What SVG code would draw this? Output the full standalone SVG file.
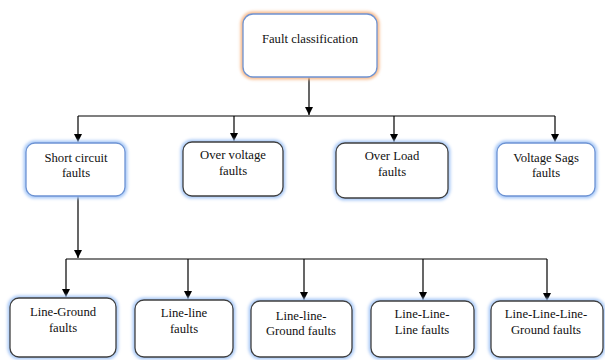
<svg xmlns="http://www.w3.org/2000/svg" width="605" height="360" viewBox="0 0 605 360">
  <style>
    .box { fill: #ffffff; stroke-width: 1.3; }
    .blue { stroke: #6d93d3; }
    .dark { stroke: #3f3f3f; }
    .halo { fill: none; stroke-width: 5; }
    .halo-b { stroke: #a9c9f7; }
    .halo-o { stroke: #f7b98a; }
    .lbl { font-size: 12.7px; fill: #111111; text-anchor: middle; }
    .wire { fill: none; stroke: #000000; stroke-width: 1.2; }
  </style>
  <defs>
    <filter id="soft" x="-20%" y="-30%" width="140%" height="160%">
      <feGaussianBlur stdDeviation="1.4"/>
    </filter>
    <marker id="arr" viewBox="0 0 10 10" refX="10" refY="5" markerWidth="8" markerHeight="8" markerUnits="userSpaceOnUse" orient="auto">
      <path d="M0,0 L10,5 L0,10 Z" fill="#000000"/>
    </marker>
  </defs>
  <rect width="605" height="360" fill="#ffffff"/>

  <g id="connectors">
    <path class="wire" d="M309,77 V115" marker-end="url(#arr)"/>
    <path class="wire" d="M78,116 H555"/>
    <path class="wire" d="M78,116 V142" marker-end="url(#arr)"/>
    <path class="wire" d="M234,116 V141" marker-end="url(#arr)"/>
    <path class="wire" d="M394,116 V142" marker-end="url(#arr)"/>
    <path class="wire" d="M555,116 V142" marker-end="url(#arr)"/>
    <path class="wire" d="M78,196 V258" marker-end="url(#arr)"/>
    <path class="wire" d="M66,259 H547"/>
    <path class="wire" d="M66,259 V297" marker-end="url(#arr)"/>
    <path class="wire" d="M188,259 V299" marker-end="url(#arr)"/>
    <path class="wire" d="M304,259 V300" marker-end="url(#arr)"/>
    <path class="wire" d="M423,259 V300" marker-end="url(#arr)"/>
    <path class="wire" d="M547,259 V301" marker-end="url(#arr)"/>
  </g>

  <g font-family="'Liberation Serif', 'DejaVu Serif', serif">
  <g id="fault-classification">
    <rect class="halo halo-o" x="243" y="14" width="134" height="63" rx="10" filter="url(#soft)"/>
    <rect class="box blue" x="243" y="14" width="134" height="63" rx="10"/>
    <text class="lbl" x="310" y="43">Fault classification</text>
  </g>

  <g id="short-circuit">
    <rect class="halo halo-b" x="26" y="143" width="99" height="53" rx="9" filter="url(#soft)"/>
    <rect class="box blue" x="26" y="143" width="99" height="53" rx="9"/>
    <text class="lbl" x="76" y="162">Short circuit</text>
    <text class="lbl" x="76" y="177">faults</text>
  </g>

  <g id="over-voltage">
    <rect class="halo halo-b" x="183" y="142" width="100" height="54" rx="9" filter="url(#soft)"/>
    <rect class="box dark" x="183" y="142" width="100" height="54" rx="9"/>
    <text class="lbl" x="233" y="159">Over voltage</text>
    <text class="lbl" x="233" y="175">faults</text>
  </g>

  <g id="over-load">
    <rect class="halo halo-b" x="336" y="143" width="112" height="55" rx="9" filter="url(#soft)"/>
    <rect class="box dark" x="336" y="143" width="112" height="55" rx="9"/>
    <text class="lbl" x="392" y="160">Over Load</text>
    <text class="lbl" x="392" y="176">faults</text>
  </g>

  <g id="voltage-sags">
    <rect class="halo halo-b" x="497" y="143" width="98" height="53" rx="9" filter="url(#soft)"/>
    <rect class="box blue" x="497" y="143" width="98" height="53" rx="9"/>
    <text class="lbl" x="546" y="162">Voltage Sags</text>
    <text class="lbl" x="546" y="177">faults</text>
  </g>

  <g id="line-ground">
    <rect class="halo halo-b" x="10" y="298" width="106" height="59" rx="9" filter="url(#soft)"/>
    <rect class="box dark" x="10" y="298" width="106" height="59" rx="9"/>
    <text class="lbl" x="63" y="316">Line-Ground</text>
    <text class="lbl" x="63" y="332">faults</text>
  </g>

  <g id="line-line">
    <rect class="halo halo-b" x="135" y="300" width="98" height="57" rx="9" filter="url(#soft)"/>
    <rect class="box dark" x="135" y="300" width="98" height="57" rx="9"/>
    <text class="lbl" x="184" y="317">Line-line</text>
    <text class="lbl" x="184" y="333">faults</text>
  </g>

  <g id="line-line-ground">
    <rect class="halo halo-b" x="251" y="301" width="101" height="56" rx="9" filter="url(#soft)"/>
    <rect class="box dark" x="251" y="301" width="101" height="56" rx="9"/>
    <text class="lbl" x="301" y="320">Line-line-</text>
    <text class="lbl" x="301" y="335">Ground faults</text>
  </g>

  <g id="line-line-line">
    <rect class="halo halo-b" x="371" y="301" width="103" height="56" rx="9" filter="url(#soft)"/>
    <rect class="box dark" x="371" y="301" width="103" height="56" rx="9"/>
    <text class="lbl" x="422" y="318">Line-Line-</text>
    <text class="lbl" x="422" y="334">Line faults</text>
  </g>

  <g id="line-line-line-ground">
    <rect class="halo halo-b" x="491" y="301" width="112" height="56" rx="9" filter="url(#soft)"/>
    <rect class="box dark" x="491" y="301" width="112" height="56" rx="9"/>
    <text class="lbl" x="546" y="318">Line-Line-Line-</text>
    <text class="lbl" x="546" y="334">Ground faults</text>
  </g>
  </g>
</svg>
